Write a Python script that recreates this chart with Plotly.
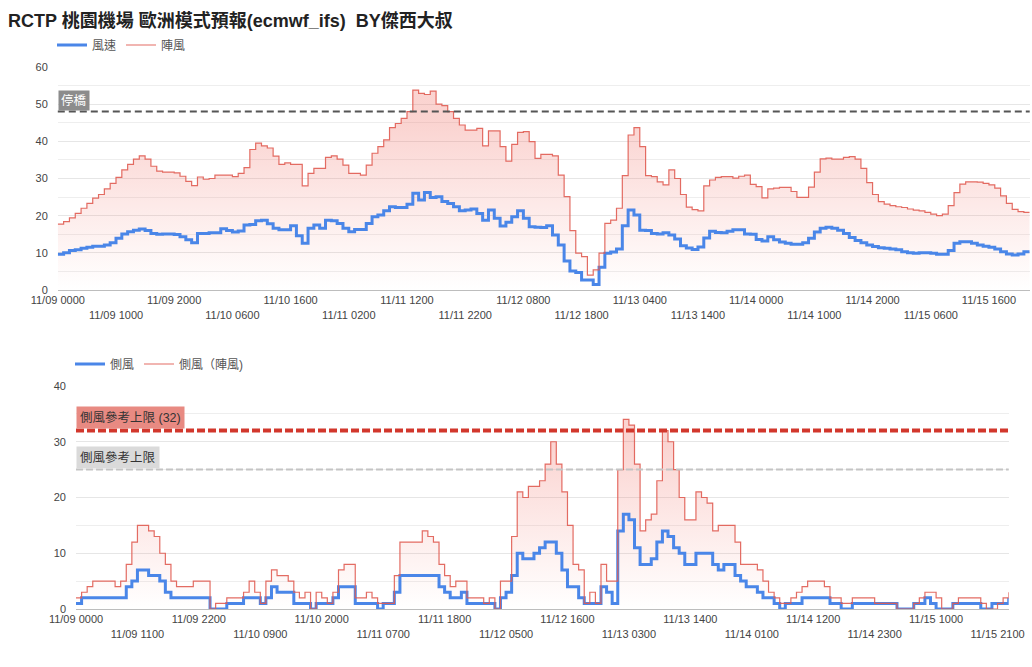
import plotly.graph_objects as go
import pandas as pd

W, H = 1032, 667
FONT = "Arial, 'Liberation Sans', 'Noto Sans CJK TC', 'Noto Sans CJK SC', sans-serif"

# ---- categories (hourly) ----
hours = pd.date_range("2024-11-09 00:00", periods=168, freq="h")
categories = [t.strftime("%m/%d %H%M") for t in hours]

# ---- top chart: 風速 / 陣風 ----
wind_speed = [
    9.6, 10.0, 10.6, 10.8, 11.2, 11.5, 11.8, 11.8, 12.1, 12.7,
    13.9, 15.1, 15.7, 16.1, 16.4, 16.0, 15.2, 15.0, 15.1, 15.1,
    14.9, 14.3, 13.5, 12.7, 15.2, 15.2, 15.4, 15.4, 16.5, 16.0,
    15.6, 15.9, 17.5, 17.6, 18.6, 18.8, 17.8, 16.6, 16.2, 16.2,
    17.3, 14.6, 12.6, 16.6, 17.5, 16.6, 18.8, 18.6, 17.9, 16.6,
    15.7, 16.3, 16.3, 17.9, 19.7, 20.2, 21.3, 22.4, 22.2, 22.2,
    23.1, 26.0, 24.2, 26.2, 24.9, 25.1, 23.8, 23.3, 22.4, 21.3,
    21.5, 21.8, 20.6, 18.8, 21.5, 19.3, 17.2, 18.2, 19.7, 21.3,
    19.3, 17.0, 16.9, 16.8, 17.3, 14.8, 12.1, 7.8, 5.1, 4.7,
    2.7, 2.7, 1.5, 6.1, 9.9, 10.2, 11.0, 17.3, 21.5, 20.2,
    16.1, 16.0, 15.2, 15.1, 15.4, 14.8, 13.7, 11.9, 11.3, 10.9,
    11.6, 14.0, 15.8, 15.5, 15.4, 15.8, 16.2, 16.2, 15.1, 15.0,
    13.6, 13.2, 14.3, 13.5, 12.9, 12.6, 12.3, 12.3, 12.7, 13.9,
    15.6, 16.6, 16.9, 16.6, 16.1, 15.2, 14.1, 13.3, 12.7, 12.1,
    11.7, 11.4, 11.2, 11.0, 10.8, 10.3, 10.0, 9.9, 10.0, 10.0,
    9.9, 9.6, 9.6, 10.6, 12.6, 13.0, 13.0, 12.6, 12.1, 11.8,
    11.5, 11.0, 10.3, 9.7, 9.4, 9.7, 10.3, 10.3,
]
wind_gust = [
    17.7, 18.4, 19.4, 20.6, 22.0, 23.3, 24.7, 25.7, 27.2, 28.7,
    30.3, 32.3, 33.8, 35.2, 36.1, 35.2, 33.3, 32.0, 31.7, 31.7,
    31.5, 30.6, 29.2, 28.1, 30.4, 29.8, 30.0, 30.9, 30.9, 30.9,
    30.5, 31.4, 32.9, 37.8, 39.5, 38.8, 38.2, 36.0, 33.8, 34.2,
    33.8, 33.8, 28.0, 31.4, 32.7, 32.7, 35.7, 36.1, 35.2, 33.6,
    31.4, 31.4, 30.9, 33.6, 36.8, 38.6, 40.4, 43.7, 44.8, 46.2,
    48.0, 53.8, 52.9, 52.6, 53.5, 50.0, 49.6, 48.0, 46.2, 44.4,
    43.0, 43.0, 43.5, 38.8, 42.8, 42.8, 38.6, 34.7, 39.2, 42.4,
    42.6, 39.9, 35.4, 36.5, 36.5, 36.1, 30.9, 25.1, 16.0, 9.9,
    9.0, 4.0, 5.4, 9.9, 17.9, 18.8, 22.0, 30.8, 41.7, 43.7,
    38.6, 30.8, 30.5, 29.1, 28.3, 32.3, 30.0, 25.7, 22.3, 21.6,
    21.3, 28.0, 29.6, 30.3, 30.5, 30.5, 30.1, 30.6, 30.9, 28.4,
    27.8, 24.8, 27.2, 27.4, 27.6, 27.6, 26.5, 24.9, 24.9, 27.7,
    31.7, 35.3, 35.5, 35.2, 35.2, 35.7, 35.9, 35.2, 32.7, 28.9,
    25.7, 23.8, 23.1, 22.7, 22.4, 22.2, 21.8, 21.5, 21.3, 20.9,
    20.4, 20.0, 20.4, 22.7, 26.2, 28.5, 29.1, 29.1, 29.0, 28.7,
    28.3, 27.4, 25.3, 23.3, 21.7, 21.1, 20.9, 20.9,
]

# ---- bottom chart: 側風 / 側風（陣風) ----
cross_wind = [
    1, 2, 2, 2, 2, 2, 2, 2, 2, 4,
    5, 7, 7, 6, 6, 5, 3, 2, 2, 2,
    2, 2, 2, 2, 0, 0, 0, 1, 1, 1,
    2, 2, 2, 1, 2, 4, 3, 3, 3, 1,
    1, 1, 0, 1, 1, 1, 2, 4, 4, 4,
    1, 1, 1, 1, 0, 1, 1, 3, 6, 6,
    6, 6, 6, 6, 6, 4, 3, 2, 2, 3,
    1, 1, 1, 1, 1, 0, 2, 3, 6, 10,
    9, 9, 10, 11, 12, 12, 10, 7, 4, 4,
    2, 1, 1, 1, 4, 3, 1, 14, 17, 16,
    11, 8, 8, 9, 12, 14, 13, 11, 10, 8,
    8, 10, 10, 10, 8, 7, 8, 8, 6, 5,
    4, 4, 3, 2, 2, 1, 0, 1, 1, 1,
    2, 2, 2, 2, 2, 1, 1, 0, 0, 1,
    1, 1, 1, 1, 1, 1, 1, 0, 0, 0,
    1, 1, 2, 1, 0, 0, 0, 1, 1, 1,
    1, 1, 0, 0, 1, 1, 1, 2,
]
cross_gust = [
    2, 3, 4, 5, 5, 5, 5, 4, 5, 8,
    12, 15, 15, 14, 13, 10, 8, 5, 4, 4,
    4, 5, 5, 5, 0, 1, 1, 2, 2, 2,
    3, 5, 3, 1, 5, 7, 6, 6, 5, 3,
    2, 3, 0, 3, 2, 1, 3, 7, 8, 8,
    2, 2, 3, 2, 1, 1, 1, 6, 12, 12,
    12, 12, 14, 13, 12, 8, 6, 4, 5, 5,
    2, 2, 2, 1, 2, 0, 5, 5, 13, 21,
    20, 22, 22, 23, 26, 30, 26, 21, 15, 8,
    7, 1, 3, 1, 8, 5, 5, 25, 34, 33,
    26, 14, 16, 17, 23, 32, 30, 25, 20, 16,
    16, 21, 20, 19, 14, 15, 15, 15, 12, 8,
    8, 8, 7, 5, 3, 2, 1, 1, 2, 3,
    4, 5, 5, 5, 4, 2, 2, 1, 1, 2,
    2, 2, 2, 1, 1, 1, 1, 0, 0, 0,
    1, 2, 3, 3, 2, 0, 0, 1, 2, 2,
    2, 2, 1, 0, 0, 1, 2, 3,
]

bridge_limit = 48          # 停橋
cross_limit_hi = 32        # 側風參考上限 (32)
cross_limit_ref = 25       # 側風參考上限

top_tick_step = 10
bot_tick_step = 11

# ---------------------------------------------------------------
n = len(categories)
x = list(range(n))

BLUE = "#4a86e8"
RED_LINE = "rgba(224,92,82,0.9)"
GRAD = [[0, "rgba(244,120,110,0.0)"], [1, "rgba(240,110,100,0.30)"]]


def ticks(step):
    idx = list(range(0, n, step))
    txt = [("<br>" if k % 2 else "") + categories[i] for k, i in enumerate(idx)]
    return idx, txt


fig = go.Figure()

# top chart
fig.add_trace(go.Scatter(x=x, y=wind_gust, mode="lines", line=dict(width=0, shape="hv"),
                         fill="tozeroy",
                         fillgradient=dict(type="vertical", colorscale=GRAD, start=0, stop=45),
                         showlegend=False, hoverinfo="skip", xaxis="x", yaxis="y"))
fig.add_trace(go.Scatter(x=x, y=wind_speed, name="風速", mode="lines",
                         line=dict(color=BLUE, width=3, shape="hv"),
                         legend="legend", xaxis="x", yaxis="y"))
fig.add_trace(go.Scatter(x=x, y=wind_gust, name="陣風", mode="lines",
                         line=dict(color=RED_LINE, width=1.2, shape="hv"),
                         legend="legend", xaxis="x", yaxis="y"))

# bottom chart
fig.add_trace(go.Scatter(x=x, y=cross_gust, mode="lines", line=dict(width=0, shape="hv"),
                         fill="tozeroy",
                         fillgradient=dict(type="vertical", colorscale=GRAD, start=0, stop=30),
                         showlegend=False, hoverinfo="skip", xaxis="x2", yaxis="y2"))
fig.add_trace(go.Scatter(x=x, y=cross_wind, name="側風", mode="lines",
                         line=dict(color=BLUE, width=3, shape="hv"),
                         legend="legend2", xaxis="x2", yaxis="y2"))
fig.add_trace(go.Scatter(x=x, y=cross_gust, name="側風（陣風)", mode="lines",
                         line=dict(color=RED_LINE, width=1.2, shape="hv"),
                         legend="legend2", xaxis="x2", yaxis="y2"))


def px_x(p):
    return p / W


def px_y(p):
    return 1 - p / H


top_idx, top_txt = ticks(top_tick_step)
bot_idx, bot_txt = ticks(bot_tick_step)

axis_common = dict(showgrid=False, zeroline=False, ticks="", automargin=False,
                   tickfont=dict(size=11, color="#444"), showline=True,
                   linecolor="#bdbdbd", linewidth=1, fixedrange=True)
yaxis_common = dict(showgrid=True, gridcolor="#e6e6e6", gridwidth=1, zeroline=False,
                    ticks="", automargin=False, tickfont=dict(size=11, color="#444"),
                    dtick=10, minor=dict(dtick=5, showgrid=True, gridcolor="#eeeeee"),
                    ticklabelstandoff=9, fixedrange=True)

fig.update_layout(
    width=W, height=H,
    margin=dict(l=0, r=0, t=0, b=0),
    paper_bgcolor="white", plot_bgcolor="white",
    font=dict(family=FONT, color="#444"),
    title=dict(text="<b>RCTP 桃園機場 歐洲模式預報(ecmwf_ifs) \u00a0BY傑西大叔</b>",
               x=px_x(8), xanchor="left", y=px_y(20.5), yanchor="middle",
               font=dict(size=18, color="#222", family=FONT)),
    xaxis=dict(domain=[px_x(57.8), px_x(1029.7)], range=[0, n - 1], anchor="y",
               tickvals=top_idx, ticktext=top_txt, **axis_common),
    yaxis=dict(domain=[px_y(290), px_y(67)], range=[0, 60], anchor="x", **yaxis_common),
    xaxis2=dict(domain=[px_x(76), px_x(1008.7)], range=[0, n - 1], anchor="y2",
                tickvals=bot_idx, ticktext=bot_txt, **axis_common),
    yaxis2=dict(domain=[px_y(609), px_y(386)], range=[0, 40], anchor="x2", **yaxis_common),
    legend=dict(orientation="h", x=px_x(52), xanchor="left", y=px_y(45), yanchor="middle",
                font=dict(size=12, color="#555"), bgcolor="rgba(0,0,0,0)", itemwidth=30,
                traceorder="normal"),
    legend2=dict(orientation="h", x=px_x(70), xanchor="left", y=px_y(364), yanchor="middle",
                 font=dict(size=12, color="#555"), bgcolor="rgba(0,0,0,0)", itemwidth=30,
                 traceorder="normal"),
    showlegend=True,
    hovermode=False,
)

# reference lines
fig.add_shape(type="line", xref="x domain", yref="y", x0=0, x1=1, y0=bridge_limit, y1=bridge_limit,
              line=dict(color="#555", width=2, dash="7px,4px"))
fig.add_shape(type="line", xref="x2 domain", yref="y2", x0=0, x1=1, y0=cross_limit_ref, y1=cross_limit_ref,
              line=dict(color="#c4c4c4", width=2, dash="7px,3px"))
fig.add_shape(type="line", xref="x2 domain", yref="y2", x0=0, x1=1, y0=cross_limit_hi, y1=cross_limit_hi,
              line=dict(color="#d2372c", width=4, dash="8px,3px"))

fig.add_annotation(text="停橋", xref="x domain", yref="y", x=0, y=bridge_limit, xanchor="left",
                   yanchor="bottom", showarrow=False, bgcolor="#8c8c8c", borderpad=2, yshift=1,
                   font=dict(size=12.5, color="white", family=FONT))
fig.add_annotation(text="側風參考上限 (32)", xref="x2 domain", yref="y2", x=0, y=cross_limit_hi,
                   xanchor="left", yanchor="bottom", showarrow=False, bgcolor="#e88a82",
                   borderpad=3, yshift=2, font=dict(size=12.5, color="#333", family=FONT))
fig.add_annotation(text="側風參考上限", xref="x2 domain", yref="y2", x=0, y=cross_limit_ref,
                   xanchor="left", yanchor="bottom", showarrow=False, bgcolor="#dadada",
                   borderpad=3, yshift=1, font=dict(size=12.5, color="#333", family=FONT))

fig.write_html("out.html", config={"displayModeBar": False})
